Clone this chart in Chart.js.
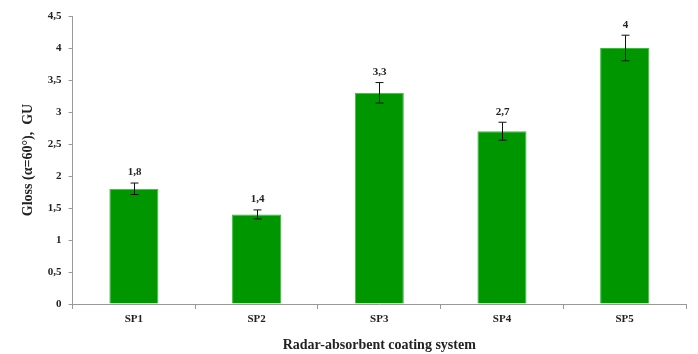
<!DOCTYPE html>
<html>
<head>
<meta charset="utf-8">
<script src="https://cdn.jsdelivr.net/npm/chart.js@4"></script>
<style>
  html, body { margin: 0; padding: 0; background: #fff; }
  #wrap { width: 698px; height: 354px; }
</style>
</head>
<body>
<div id="wrap"><canvas id="glossChart" width="698" height="354"></canvas></div>
<script>
const categories = ["SP1", "SP2", "SP3", "SP4", "SP5"];
const glossValues = [1.8, 1.4, 3.3, 2.7, 4];
const glossErrors = [0.09, 0.07, 0.16, 0.14, 0.2];
const valueLabels = ["1,8", "1,4", "3,3", "2,7", "4"];

const serif = "'Liberation Serif', 'Times New Roman', serif";

// error bars + value labels, drawn from the scales
const errorBars = {
  id: "errorBars",
  afterDatasetsDraw(chart) {
    const ctx = chart.ctx;
    const x = chart.scales.x;
    const y = chart.scales.y;
    ctx.save();
    ctx.strokeStyle = "#111";
    ctx.lineWidth = 1;
    categories.forEach((c, i) => {
      const cx = Math.round(x.getPixelForValue(i)) + 0.5;
      const top = y.getPixelForValue(glossValues[i] + glossErrors[i]);
      const bot = y.getPixelForValue(glossValues[i] - glossErrors[i]);
      ctx.beginPath();
      ctx.moveTo(cx, top); ctx.lineTo(cx, bot);
      ctx.moveTo(cx - 4, top); ctx.lineTo(cx + 4, top);
      ctx.moveTo(cx - 4, bot); ctx.lineTo(cx + 4, bot);
      ctx.stroke();
      ctx.fillStyle = "#222";
      ctx.font = "bold 11px " + serif;
      ctx.textAlign = "center";
      ctx.textBaseline = "bottom";
      ctx.fillText(valueLabels[i], cx, top - 5);
    });
    ctx.restore();
  }
};

new Chart(document.getElementById("glossChart"), {
  type: "bar",
  data: {
    labels: categories,
    datasets: [{
      data: glossValues,
      backgroundColor: "#009600",
      borderColor: "#3fb83f",
      borderWidth: 1,
      barPercentage: 0.4,
      categoryPercentage: 1.0
    }]
  },
  options: {
    responsive: false,
    animation: false,
    layout: { padding: { top: 16, right: 12, left: 16, bottom: 0 } },
    plugins: {
      legend: { display: false },
      tooltip: { enabled: false }
    },
    scales: {
      x: {
        offset: true,
        grid: { display: true, offset: true, drawOnChartArea: false, tickLength: 5, color: "#999" },
        border: { color: "#999" },
        ticks: { color: "#222", font: { family: serif, weight: "bold", size: 11 }, padding: 4 },
        title: { display: true, text: "Radar-absorbent coating system", color: "#222",
                 font: { family: serif, weight: "bold", size: 14 }, padding: { top: 7, bottom: 0 } }
      },
      y: {
        min: 0,
        max: 4.5,
        grid: { display: true, drawOnChartArea: false, tickLength: 4, color: "#999" },
        border: { color: "#999" },
        ticks: {
          stepSize: 0.5,
          color: "#222",
          padding: 7,
          font: { family: serif, weight: "bold", size: 11 },
          callback: v => String(v).replace(".", ",")
        },
        title: { display: true, text: "Gloss (\u03b1=60\u00b0),  GU", color: "#222",
                 font: { family: serif, weight: "bold", size: 14 }, padding: { bottom: 4 } }
      }
    }
  },
  plugins: [errorBars]
});
</script>
</body>
</html>
